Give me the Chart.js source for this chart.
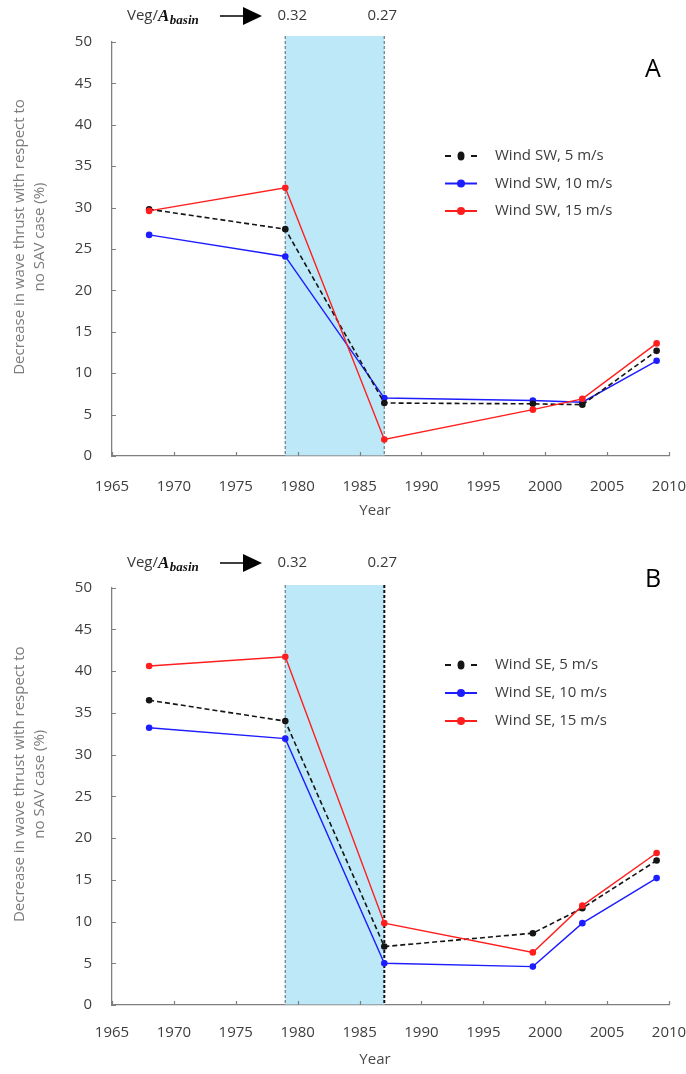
<!DOCTYPE html>
<html>
<head>
<meta charset="utf-8">
<script src="https://cdn.jsdelivr.net/npm/chart.js@4.4.1/dist/chart.umd.min.js"></script>
<style>
  html, body { margin: 0; padding: 0; background: #ffffff; }
  .panel { position: absolute; left: 0; width: 686px; height: 537px; }
  #panelA { top: 0; }
  #panelB { top: 537px; }
</style>
</head>
<body>
<div class="panel" id="panelA"><canvas id="chartA" width="686" height="537"></canvas></div>
<div class="panel" id="panelB"><canvas id="chartB" width="686" height="537"></canvas></div>
<script>
// Survey years and axis ticks
const years = [1968, 1979, 1987, 1999, 2003, 2009];
const yearTicks = [1965, 1970, 1975, 1980, 1985, 1990, 1995, 2000, 2005, 2010];
const percentTicks = [0, 5, 10, 15, 20, 25, 30, 35, 40, 45, 50];

// Panel A: south-west wind, decrease in wave thrust (%)
const swWind5  = [29.8, 27.4, 6.4, 6.3, 6.2, 12.7];
const swWind10 = [26.7, 24.1, 7.0, 6.7, 6.5, 11.5];
const swWind15 = [29.6, 32.4, 2.0, 5.6, 6.9, 13.6];

// Panel B: south-east wind, decrease in wave thrust (%)
const seWind5  = [36.5, 34.0, 7.0, 8.6, 11.6, 17.3];
const seWind10 = [33.2, 31.9, 5.0, 4.6, 9.8, 15.2];
const seWind15 = [40.6, 41.7, 9.8, 6.3, 11.9, 18.2];

const swLabels = ['Wind SW, 5 m/s', 'Wind SW, 10 m/s', 'Wind SW, 15 m/s'];
const seLabels = ['Wind SE, 5 m/s', 'Wind SE, 10 m/s', 'Wind SE, 15 m/s'];

// Vegetation period band and its Veg/A_basin ratios
const vegYears = [1979, 1987];
const vegRatios = ['0.32', '0.27'];

const yTitle = ['Decrease in wave thrust with respect to', 'no SAV case (%)'];
const xTitle = 'Year';

const FONT = "'Open Sans', 'Noto Sans', sans-serif";

const seriesStyles = [
  { color: '#151515', dash: [5, 3], width: 1.6, order: 2 },
  { color: '#1d1dff', dash: [],     width: 1.4, order: 3 },
  { color: '#ff1d1d', dash: [],     width: 1.4, order: 1 }
];

function makeDatasets(seriesList, labels) {
  return seriesList.map((vals, i) => {
    const st = seriesStyles[i];
    return {
      label: labels[i],
      data: years.map((yr, k) => ({ x: yr, y: vals[k] })),
      borderColor: st.color,
      backgroundColor: st.color,
      borderDash: st.dash,
      borderWidth: st.width,
      pointRadius: 3.3,
      pointBorderWidth: 0,
      pointBackgroundColor: st.color,
      tension: 0,
      order: st.order
    };
  });
}

function dashedEdge(ctx, x, top, bottom, style) {
  ctx.save();
  ctx.strokeStyle = style.color;
  ctx.lineWidth = style.width;
  ctx.setLineDash([3, 2]);
  ctx.beginPath();
  ctx.moveTo(x, top);
  ctx.lineTo(x, bottom);
  ctx.stroke();
  ctx.restore();
}

const panelDecor = {
  id: 'panelDecor',
  beforeDatasetsDraw(chart, args, o) {
    const { ctx, chartArea, scales: { x } } = chart;
    const x0 = x.getPixelForValue(vegYears[0]);
    const x1 = x.getPixelForValue(vegYears[1]);
    ctx.save();
    ctx.fillStyle = '#bde8f7';
    ctx.fillRect(x0, o.bandTop, x1 - x0, chartArea.bottom - o.bandTop - 0.6);
    ctx.restore();
    dashedEdge(ctx, x0, o.bandTop, chartArea.bottom, o.leftEdge);
    dashedEdge(ctx, x1, o.bandTop, chartArea.bottom, o.rightEdge);
  },
  afterDraw(chart, args, o) {
    const { ctx, chartArea, scales: { x, y } } = chart;
    ctx.save();

    // inward tick marks
    ctx.strokeStyle = '#7f7f7f';
    ctx.lineWidth = 1.2;
    ctx.beginPath();
    x.ticks.forEach(t => {
      const px = Math.round(x.getPixelForValue(t.value)) + 0.5;
      ctx.moveTo(px, chartArea.bottom);
      ctx.lineTo(px, chartArea.bottom - 4);
    });
    y.ticks.forEach(t => {
      const py = Math.round(y.getPixelForValue(t.value)) + 0.5;
      ctx.moveTo(chartArea.left, py);
      ctx.lineTo(chartArea.left + 4, py);
    });
    ctx.stroke();

    // y-axis title (two rotated lines)
    ctx.fillStyle = '#7b7b7b';
    ctx.font = '15px ' + FONT;
    ctx.textAlign = 'center';
    ctx.textBaseline = 'middle';
    const cy = (chartArea.top + chartArea.bottom) / 2 + o.titleShift;
    [20, 40].forEach((tx, i) => {
      ctx.save();
      ctx.translate(tx, cy);
      ctx.rotate(-Math.PI / 2);
      ctx.fillText(yTitle[i], 0, 0);
      ctx.restore();
    });

    // x-axis title
    ctx.fillStyle = '#4a4a4a';
    ctx.fillText(xTitle, 375, o.yearY);

    // header: Veg/A_basin -> ratios
    const hy = o.headerY;
    ctx.textAlign = 'left';
    ctx.fillStyle = '#3a3a3a';
    ctx.font = '15px ' + FONT;
    let hx = 127;
    ctx.fillText('Veg/', hx, hy);
    hx += ctx.measureText('Veg/').width;
    ctx.fillStyle = '#111111';
    ctx.font = "bold italic 17px 'Liberation Serif', serif";
    ctx.fillText('A', hx, hy + 1);
    hx += ctx.measureText('A').width + 0.5;
    ctx.font = "bold italic 13px 'Liberation Serif', serif";
    ctx.fillText('basin', hx, hy + 5);

    ctx.strokeStyle = '#000000';
    ctx.lineWidth = 1.5;
    ctx.beginPath();
    ctx.moveTo(220, hy);
    ctx.lineTo(245, hy);
    ctx.stroke();
    ctx.fillStyle = '#000000';
    ctx.beginPath();
    ctx.moveTo(243, hy - 9);
    ctx.lineTo(262, hy);
    ctx.lineTo(243, hy + 9);
    ctx.closePath();
    ctx.fill();

    ctx.fillStyle = '#3a3a3a';
    ctx.font = '15px ' + FONT;
    ctx.textAlign = 'center';
    ctx.fillText(vegRatios[0], x.getPixelForValue(vegYears[0]) + 7, hy);
    ctx.fillText(vegRatios[1], x.getPixelForValue(vegYears[1]) - 2, hy);

    // panel letter
    ctx.fillStyle = '#000000';
    ctx.font = '25px ' + FONT;
    ctx.fillText(o.letter, 653, o.letterY);

    // legend
    chart.data.datasets.forEach((ds, i) => {
      const ly = o.legendY[i];
      ctx.strokeStyle = ds.borderColor;
      ctx.fillStyle = ds.borderColor;
      ctx.lineWidth = 2;
      ctx.setLineDash([]);
      ctx.beginPath();
      if (i === 0) {
        ctx.moveTo(445, ly); ctx.lineTo(451, ly);
        ctx.moveTo(471, ly); ctx.lineTo(477, ly);
      } else {
        ctx.moveTo(445, ly); ctx.lineTo(477, ly);
      }
      ctx.stroke();
      ctx.beginPath();
      if (i === 0) {
        ctx.ellipse(461, ly, 3.5, 4.5, 0, 0, Math.PI * 2);
      } else {
        ctx.arc(461, ly, 4, 0, Math.PI * 2);
      }
      ctx.fill();
      ctx.fillStyle = '#3c3c3c';
      ctx.font = '15px ' + FONT;
      ctx.textAlign = 'left';
      ctx.fillText(ds.label, 495, ly);
    });

    ctx.restore();
  }
};

function buildChart(canvasId, seriesList, labels, cfg) {
  return new Chart(document.getElementById(canvasId), {
    type: 'line',
    data: { datasets: makeDatasets(seriesList, labels) },
    plugins: [panelDecor],
    options: {
      responsive: false,
      animation: false,
      events: [],
      layout: { padding: { top: cfg.padTop, right: 17, bottom: 0, left: 0 } },
      plugins: {
        legend: { display: false },
        tooltip: { enabled: false },
        panelDecor: cfg
      },
      scales: {
        x: {
          type: 'linear',
          min: 1965,
          max: 2010,
          afterBuildTicks: s => { s.ticks = yearTicks.map(v => ({ value: v })); },
          afterFit: s => {
            s.height = cfg.xHeight;
            // keep the end labels from shrinking the plot width
            s.paddingLeft = 0;
            s.paddingRight = 17;
          },
          grid: { display: false },
          border: { display: true, color: '#7f7f7f', width: 1.3 },
          ticks: {
            padding: cfg.tickPad,
            color: '#3e3e3e',
            font: { family: FONT, size: 15 },
            maxRotation: 0,
            autoSkip: false,
            callback: v => String(v)
          }
        },
        y: {
          type: 'linear',
          min: 0,
          max: 50,
          afterBuildTicks: s => { s.ticks = percentTicks.map(v => ({ value: v })); },
          afterFit: s => {
            s.width = 112;
            s.paddingTop = 0;
            s.paddingBottom = 0;
          },
          grid: { display: false },
          border: { display: true, color: '#7f7f7f', width: 1.3 },
          ticks: {
            padding: 12,
            color: '#3e3e3e',
            font: { family: FONT, size: 15 },
            callback: v => String(v)
          }
        }
      }
    }
  });
}

function start() {
  buildChart('chartA', [swWind5, swWind10, swWind15], swLabels, {
    letter: 'A', letterY: 70, headerY: 16, bandTop: 36,
    leftEdge: { color: '#7d8a93', width: 1.4 },
    rightEdge: { color: '#7d8a93', width: 1.4 },
    legendY: [156, 183.5, 211], titleShift: -12, yearY: 511,
    padTop: 42, xHeight: 81, tickPad: 14
  });
  buildChart('chartB', [seWind5, seWind10, seWind15], seLabels, {
    letter: 'B', letterY: 43, headerY: 26, bandTop: 48,
    leftEdge: { color: '#7d8a93', width: 1.4 },
    rightEdge: { color: '#111111', width: 2 },
    legendY: [128, 156, 184], titleShift: -12, yearY: 523,
    padTop: 50.5, xHeight: 69, tickPad: 11
  });
}

if (document.fonts && document.fonts.load) {
  Promise.all([
    document.fonts.load("15px 'Open Sans'"),
    document.fonts.load("bold italic 17px 'Liberation Serif'")
  ]).catch(() => {}).then(start);
} else {
  start();
}
</script>
</body>
</html>
